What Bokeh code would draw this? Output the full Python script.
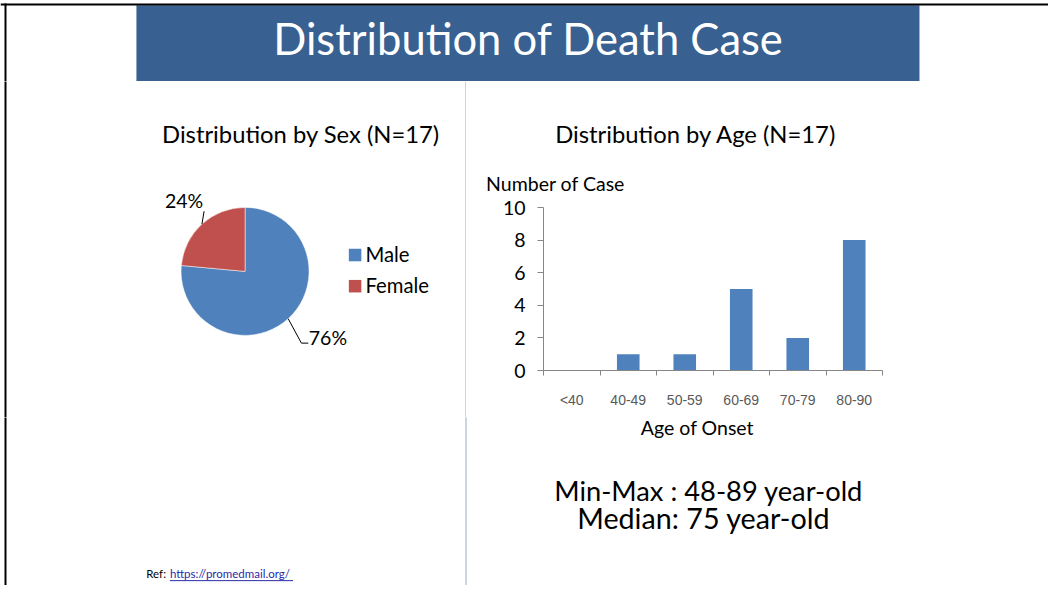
import math
from bokeh.plotting import figure
from bokeh.layouts import column, row
from bokeh.models import Range1d, FixedTicker, ColumnDataSource
from bokeh.core.properties import value
from bokeh.embed import file_html
from bokeh.resources import INLINE

# ---------------- data ----------------
slide_title = "Distribution of Death Case"

sex_title = "Distribution by Sex (N=17)"
sex_labels = ["Male", "Female"]
sex_counts = [13, 4]
sex_colors = ["#4F81BD", "#C0504D"]

age_title = "Distribution by Age (N=17)"
age_groups = ["<40", "40-49", "50-59", "60-69", "70-79", "80-90"]
age_counts = [0, 1, 1, 5, 2, 8]
y_ticks = [0, 2, 4, 6, 8, 10]
y_label = "Number of Case"
x_label = "Age of Onset"

age_min, age_max, age_median = 48, 89, 75
ref_label = "Ref:"
ref_url = "https://promedmail.org/"

# ---------------- layout constants ----------------
FONT = "Lato"
W, H = 1048, 585
REF_W, REF_H = 1064, 601
BLUE = "#386090"
AXIS_GREY = "#868686"
DIVIDER = "#93A9C9"
BORDER_X = 5


def fx(X):
    return X * W / REF_W


def fy(Y):
    return Y * H / REF_H


BAN_H = round(fy(83))             # 81
TOP_H = round(fy(199))            # 194
MID_BOTTOM = round(fy(428))       # 417
RT_H = TOP_H - BAN_H
BAR_H = MID_BOTTOM - TOP_H
LEFT_H = MID_BOTTOM - BAN_H
BOT_H = H - MID_BOTTOM
LEFT_W = round(fx(473))           # 466
RIGHT_W = W - LEFT_W
DIV_X = LEFT_W - 0.5


def pix_fig(w, h):
    p = figure(width=w, height=h, x_range=Range1d(0, w), y_range=Range1d(0, h),
               x_axis_type=None, y_axis_type=None, toolbar_location=None,
               output_backend="svg", min_border=0)
    p.outline_line_color = None
    p.background_fill_color = "white"
    p.border_fill_color = "white"
    return p


def mapper(x0, y0, h):
    return (lambda X: fx(X) - x0), (lambda Y: h - (fy(Y) - y0))


def txt(p, x, y, s, size, color="black", align="center", font=FONT):
    # y is the wanted centre of the capital letters (data units, y up)
    p.text(x=[x], y=[y + 0.075 * size], text=[s], text_font=value(font),
           text_font_size=f"{size}px", text_color=color, text_align=align,
           text_baseline="middle")


def vline(p, x, y0, y1, color, width):
    p.segment(x0=[x], y0=[y0], x1=[x], y1=[y1], line_color=color, line_width=width)


# ---------------- banner ----------------
ban = pix_fig(W, BAN_H)
X, Y = mapper(0, 0, BAN_H)
ban.quad(left=[X(138)], right=[X(933)], top=[Y(5)], bottom=[-2], fill_color=BLUE, line_color=None)
ban.segment(x0=[0], y0=[Y(4)], x1=[W], y1=[Y(4)], line_color="black", line_width=2)
vline(ban, BORDER_X, -3, Y(4) + 1, "black", 2)
txt(ban, X(536), Y(42), slide_title, 43.5, color="white")

# ---------------- left: title + pie ----------------
left = pix_fig(LEFT_W, LEFT_H)
X, Y = mapper(0, BAN_H, LEFT_H)
vline(left, BORDER_X, -3, LEFT_H + 3, "black", 2)
vline(left, DIV_X, -3, LEFT_H + 3, DIVIDER, 1)
txt(left, X(305), Y(139), sex_title, 23.8)

total = sum(sex_counts)
cx, cy, r = X(248.3), Y(278.3), 64
starts, ends, mids = [], [], []
cum = 0
for c in sex_counts:
    a0 = 90 - cum / total * 360
    cum += c
    a1 = 90 - cum / total * 360
    starts.append(math.radians(a0))
    ends.append(math.radians(a1))
    mids.append(math.radians((a0 + a1) / 2))
pie_src = ColumnDataSource(dict(start=starts, end=ends, color=sex_colors, label=sex_labels))
left.wedge(x=cx, y=cy, radius=r, start_angle="start", end_angle="end", direction="clock",
           fill_color="color", line_color="white", line_width=0.5, source=pie_src)

pcts = [f"{round(c / total * 100)}%" for c in sex_counts]
ex, ey = cx + r * math.cos(mids[0]), cy + r * math.sin(mids[0])
left.line(x=[ex, X(305.5), X(312.5)], y=[ey, Y(352), Y(352)], line_color="black", line_width=1)
txt(left, X(313), Y(348), pcts[0], 19.5, align="left")
ex, ey = cx + r * math.cos(mids[1]), cy + r * math.sin(mids[1])
left.line(x=[ex, X(206.7)], y=[ey, Y(216.5)], line_color="black", line_width=1)
txt(left, X(167), Y(206.5), pcts[1], 19.5, align="left")

for i, (lab, col) in enumerate(zip(sex_labels, sex_colors)):
    cc = 261.5 + i * 32
    left.scatter(x=[X(360)], y=[Y(cc)], marker="square", size=12.5, fill_color=col, line_color=None)
    txt(left, X(370.5), Y(cc), lab, 20.3, align="left")

# ---------------- right top: titles ----------------
rtop = pix_fig(RIGHT_W, RT_H)
X, Y = mapper(LEFT_W, BAN_H, RT_H)
txt(rtop, X(706), Y(139), age_title, 23.8)
txt(rtop, X(493), Y(190), y_label, 19.5, align="left")

# ---------------- right: bar chart ----------------
frame_l = round(fx(551.7)) - LEFT_W
frame_r = round(fx(895)) - LEFT_W
frame_t = round(fy(212.7)) - TOP_H
frame_b = round(fy(380)) - TOP_H
bar = figure(width=RIGHT_W, height=BAR_H, x_range=Range1d(0, len(age_groups)),
             y_range=Range1d(0, 10), toolbar_location=None, output_backend="svg",
             min_border_left=frame_l, min_border_right=RIGHT_W - frame_r,
             min_border_top=frame_t, min_border_bottom=BAR_H - frame_b)
bar.outline_line_color = None
bar.background_fill_color = "white"
bar.border_fill_color = "white"
bar.xgrid.visible = False
bar.ygrid.visible = False
centers = [i + 0.5 for i in range(len(age_groups))]
bar.vbar(x=centers, top=age_counts, width=0.4, fill_color="#4F81BD", line_color=None)

xa = bar.xaxis[0]
xa.ticker = FixedTicker(ticks=centers, minor_ticks=list(range(len(age_groups) + 1)))
xa.major_label_overrides = {c: g for c, g in zip(centers, age_groups)}
xa.major_tick_in = 0
xa.major_tick_out = 0
xa.minor_tick_in = 0
xa.minor_tick_out = 5
xa.minor_tick_line_color = AXIS_GREY
xa.axis_line_color = AXIS_GREY
xa.major_label_text_font = "Liberation Sans"
xa.major_label_text_font_size = "14px"
xa.major_label_text_color = "#595959"
xa.major_label_standoff = 16

ya = bar.yaxis[0]
ya.ticker = FixedTicker(ticks=y_ticks, minor_ticks=[])
ya.major_tick_in = 0
ya.major_tick_out = 6
ya.major_tick_line_color = AXIS_GREY
ya.axis_line_color = AXIS_GREY
ya.major_label_text_font = FONT
ya.major_label_text_font_size = "19.5px"
ya.major_label_text_color = "black"
ya.major_label_standoff = 12

# ---------------- bottom ----------------
bot = pix_fig(W, BOT_H)
X, Y = mapper(0, MID_BOTTOM, BOT_H)
vline(bot, BORDER_X, -3, BOT_H + 3, "black", 2)
vline(bot, DIV_X, -3, BOT_H + 3, DIVIDER, 1)
txt(bot, X(707.5), Y(440), x_label, 19.5)
txt(bot, X(719), Y(506), f"Min-Max : {age_min}-{age_max} year-old", 27.3)
txt(bot, X(714), Y(534), f"Median: {age_median} year-old", 28.7)
txt(bot, X(148), Y(590), ref_label, 11.5, align="left")
txt(bot, X(172), Y(590), ref_url, 11.5, color="#2A2AA8", align="left")
bot.segment(x0=[X(172)], y0=[Y(596)], x1=[X(297)], y1=[Y(596)], line_color="#2A2AA8", line_width=1)

layout = column(ban, row(left, column(rtop, column(bar))), bot)
open("out.html", "w").write(file_html(layout, INLINE))
